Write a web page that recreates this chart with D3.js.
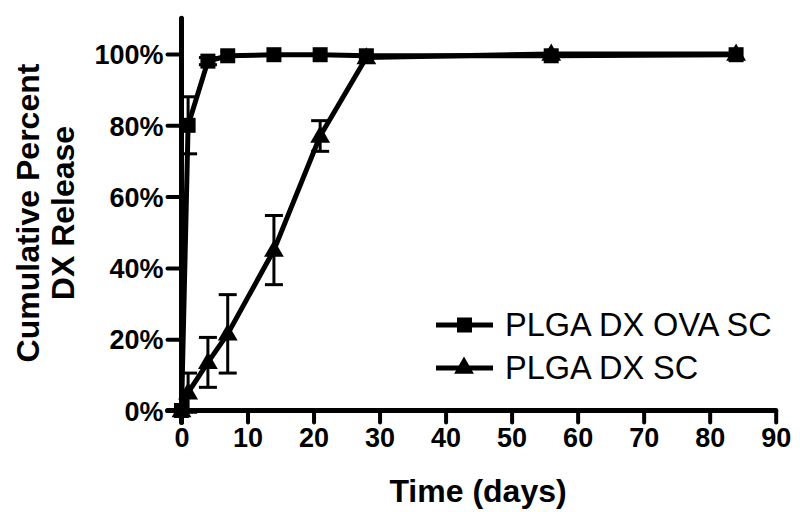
<!DOCTYPE html>
<html>
<head>
<meta charset="utf-8">
<script src="https://cdn.jsdelivr.net/npm/d3@7"></script>
<style>
  body { margin: 0; background: #fff; }
  text { font-family: Arial, "Liberation Sans", sans-serif; }
</style>
</head>
<body>
<div id="container"></div>
<script>
// data
const days = [0, 1, 4, 7, 14, 21, 28, 56, 84];
const ovaValues = [0, 80, 98, 99.5, 99.8, 99.8, 99.5, 99.5, 99.8];
const ovaErrors = [0, 8, 1, 0, 0, 0, 0, 0, 0];
const scValues = [0, 5, 13.5, 21.5, 45, 77, 99, 100, 100];
const scErrors = [0, 5.5, 7, 11, 9.7, 4.3, 0, 0, 0];
const xTicks = [0, 10, 20, 30, 40, 50, 60, 70, 80, 90];
const yTicks = [0, 20, 40, 60, 80, 100];
const seriesNames = ['PLGA DX OVA SC', 'PLGA DX SC'];

const width = 800, height = 512;

const svg = d3.select('#container')
  .append('svg')
  .attr('width', width)
  .attr('height', height);

// scales
const xScale = d3.scaleLinear().domain([0, 90]).range([181.5, 775.7]);
const yScale = d3.scaleLinear().domain([0, 100]).range([410.5, 54]);

// axes
const xAxis = svg.append('g')
  .attr('transform', `translate(0,${yScale(0)})`)
  .call(d3.axisBottom(xScale).tickValues(xTicks).tickSize(12).tickSizeOuter(0).tickPadding(5));
const yAxis = svg.append('g')
  .attr('transform', `translate(${xScale(0)},0)`)
  .call(d3.axisLeft(yScale).tickValues(yTicks).tickSize(14).tickSizeOuter(0).tickPadding(4)
    .tickFormat(d => d + '%'));

[xAxis, yAxis].forEach(a => {
  a.select('.domain').remove();
  a.selectAll('line').attr('stroke', '#000').attr('stroke-width', 4).attr('stroke-linecap', 'round');
  a.selectAll('text').attr('fill', '#000').style('font-size', '27px').style('font-weight', 'bold');
});
xAxis.selectAll('text').attr('dy', '0.72em');
yAxis.selectAll('text').attr('dy', '0.36em');

// axis lines (y line goes past 100% and below the x axis like the original)
svg.append('line')
  .attr('x1', xScale(0)).attr('x2', xScale(0))
  .attr('y1', yScale(110)).attr('y2', yScale(0) + 12)
  .attr('stroke', '#000').attr('stroke-width', 5).attr('stroke-linecap', 'round');
svg.append('line')
  .attr('x1', xScale(0) - 14).attr('x2', xScale(90))
  .attr('y1', yScale(0)).attr('y2', yScale(0))
  .attr('stroke', '#000').attr('stroke-width', 5).attr('stroke-linecap', 'round');

// axis labels
svg.append('text')
  .attr('x', 478).attr('y', 502)
  .attr('text-anchor', 'middle')
  .style('font-size', '32px').style('font-weight', 'bold')
  .text('Time (days)');

const yTitle = svg.append('text')
  .attr('transform', 'translate(0,213) rotate(-90)')
  .attr('text-anchor', 'middle')
  .style('font-size', '32px').style('font-weight', 'bold');
yTitle.append('tspan').attr('x', 0).attr('y', 39).text('Cumulative Percent');
yTitle.append('tspan').attr('x', 0).attr('y', 74).text('DX Release');

// line generator
const line = d3.line()
  .x(d => xScale(d[0]))
  .y(d => yScale(d[1]));

const triangle = d3.symbol().type(d3.symbolTriangle).size(170);

function drawSeries(values, errors, marker) {
  const pts = days.map((d, i) => [d, values[i], errors[i]]);
  const g = svg.append('g');
  // error bars
  pts.filter(p => p[2] > 0).forEach(p => {
    const cx = xScale(p[0]);
    const top = yScale(p[1] + p[2]);
    const bot = yScale(p[1] - p[2]);
    g.append('line').attr('x1', cx).attr('x2', cx).attr('y1', top).attr('y2', bot)
      .attr('stroke', '#000').attr('stroke-width', 3);
    [top, bot].forEach(yy => g.append('line')
      .attr('x1', cx - 9).attr('x2', cx + 9).attr('y1', yy).attr('y2', yy)
      .attr('stroke', '#000').attr('stroke-width', 3));
  });
  g.append('path')
    .datum(pts)
    .attr('fill', 'none')
    .attr('stroke', '#000')
    .attr('stroke-width', 5)
    .attr('stroke-linejoin', 'round')
    .attr('d', line);
  if (marker === 'square') {
    g.selectAll('rect').data(pts).join('rect')
      .attr('x', p => xScale(p[0]) - 7.5)
      .attr('y', p => yScale(p[1]) - 7.5)
      .attr('width', 15).attr('height', 15)
      .attr('fill', '#000');
  } else {
    g.selectAll('path.mk').data(pts).join('path')
      .attr('class', 'mk')
      .attr('transform', p => `translate(${xScale(p[0])},${yScale(p[1]) + 1})`)
      .attr('d', triangle)
      .attr('fill', '#000');
  }
}

drawSeries(scValues, scErrors, 'triangle');
drawSeries(ovaValues, ovaErrors, 'square');

// legend
const legend = svg.append('g');
const legendRows = [325, 368];
seriesNames.forEach((name, i) => {
  const ly = legendRows[i];
  legend.append('line')
    .attr('x1', 436).attr('x2', 493).attr('y1', ly).attr('y2', ly)
    .attr('stroke', '#000').attr('stroke-width', 5);
  if (i === 0) {
    legend.append('rect').attr('x', 457).attr('y', ly - 7.5).attr('width', 15).attr('height', 15).attr('fill', '#000');
  } else {
    legend.append('path').attr('transform', `translate(464,${ly})`).attr('d', triangle).attr('fill', '#000');
  }
  legend.append('text')
    .attr('x', 505).attr('y', ly + 11)
    .style('font-size', '32.5px')
    .text(name);
});
</script>
</body>
</html>
